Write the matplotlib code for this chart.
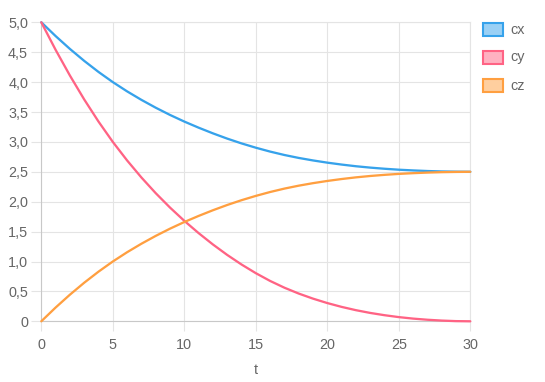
import matplotlib
matplotlib.use("Agg")
import matplotlib.pyplot as plt
from matplotlib.patches import Rectangle

t = list(range(31))
cx = [5.000, 4.770, 4.555, 4.355, 4.170, 4.000, 3.845, 3.703, 3.572, 3.451, 3.340,
      3.238, 3.143, 3.055, 2.975, 2.903, 2.838, 2.781, 2.732, 2.690, 2.653,
      2.621, 2.593, 2.570, 2.551, 2.535, 2.523, 2.513, 2.506, 2.502, 2.500]
cy = [5.000, 4.540, 4.110, 3.710, 3.340, 3.000, 2.690, 2.405, 2.143, 1.902, 1.680,
      1.475, 1.285, 1.110, 0.950, 0.805, 0.675, 0.562, 0.464, 0.379, 0.305,
      0.241, 0.186, 0.140, 0.102, 0.070, 0.045, 0.026, 0.012, 0.003, 0.000]
cz = [0.000, 0.230, 0.445, 0.645, 0.830, 1.000, 1.155, 1.297, 1.428, 1.549, 1.660,
      1.762, 1.857, 1.945, 2.025, 2.097, 2.162, 2.219, 2.268, 2.310, 2.347,
      2.379, 2.407, 2.430, 2.449, 2.465, 2.477, 2.487, 2.494, 2.498, 2.500]

names = ["cx", "cy", "cz"]
colors = ["#36a2eb", "#ff6384", "#ff9f40"]
fills = ["#9ad0f5", "#ffb1c1", "#ffcf9f"]
xticks = [0, 5, 10, 15, 20, 25, 30]
yticks = [0, 0.5, 1.0, 1.5, 2.0, 2.5, 3.0, 3.5, 4.0, 4.5, 5.0]
ylabels = ["0", "0,5", "1,0", "1,5", "2,0", "2,5", "3,0", "3,5", "4,0", "4,5", "5,0"]

plt.rcParams["font.family"] = ["Liberation Sans", "DejaVu Sans"]
W, H = 545, 382
fs = 10.4
fig = plt.figure(figsize=(W / 100, H / 100), dpi=100)
ax = fig.add_axes([41.3 / W, 1 - 321.3 / H, 429 / W, 299 / H])

for y, c in zip([cx, cy, cz], colors):
    ax.plot(t, y, color=c, lw=1.65, solid_capstyle="round", clip_on=False, zorder=3)

ax.set_xlim(0, 30)
ax.set_ylim(0, 5)
ax.set_xticks(xticks)
ax.set_yticks(yticks)
ax.set_yticklabels(ylabels)
ax.grid(True, color="#e4e4e4", lw=0.8)
ax.tick_params(colors="#e4e4e4", labelcolor="#666666", labelsize=fs,
               length=7, width=0.8)
ax.tick_params(axis="y", pad=2.5)
ax.tick_params(axis="x", pad=5)
for s in ["top", "right"]:
    ax.spines[s].set_color("#e4e4e4")
    ax.spines[s].set_linewidth(0.8)
for s in ["left", "bottom"]:
    ax.spines[s].set_color("#c8c8c8")
    ax.spines[s].set_linewidth(0.8)
ax.set_xlabel("t", color="#666666", fontsize=fs, labelpad=8)

# legend on the right
for i, (n, c, f) in enumerate(zip(names, colors, fills)):
    yc = 29.5 + i * 28
    fig.patches.append(Rectangle((483 / W, 1 - (yc + 6.5) / H), 20 / W, 13 / H,
                                 transform=fig.transFigure, facecolor=f,
                                 edgecolor=c, lw=1.5))
    fig.text(510 / W, 1 - yc / H, n, color="#666666", fontsize=fs, va="center")

fig.savefig("out.png", dpi=100)
